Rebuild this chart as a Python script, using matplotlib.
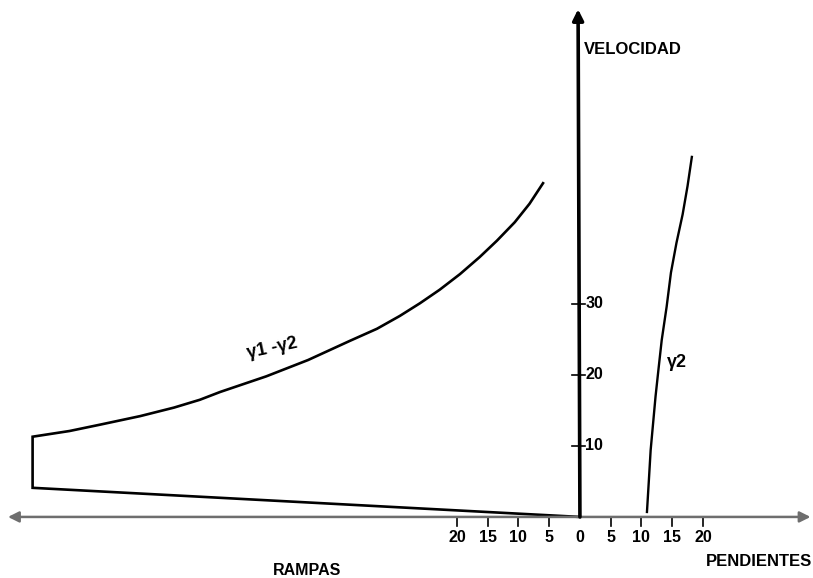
import matplotlib
matplotlib.use("Agg")
import matplotlib.pyplot as plt

plt.rcParams['font.family'] = ['Liberation Sans', 'DejaVu Sans']

# Upper boundary of the ramp envelope (gamma1 - gamma2), ramps are negative x
ramp_upper_x = [-89.0, -83.0, -78.0, -71.5, -66.0, -61.8, -58.5, -51.0, -44.2, -37.4,
                -33.0, -29.3, -26.0, -22.8, -19.5, -16.3, -13.5, -10.6, -8.2, -6.0]
ramp_upper_y = [11.3, 12.1, 13.0, 14.2, 15.4, 16.5, 17.6, 19.8, 22.1, 24.8,
                26.5, 28.3, 30.1, 32.0, 34.2, 36.6, 38.9, 41.5, 44.1, 47.0]
# Lower boundary of the ramp envelope
ramp_lower_x = [0.0, -89.0]
ramp_lower_y = [0.0, 4.1]
# Gamma2 curve on the downhill side
slope_x = [10.9, 11.2, 11.5, 11.9, 12.3, 12.8, 13.3, 14.1, 14.8, 15.7, 16.7, 17.5, 18.2]
slope_y = [0.7, 5.0, 9.4, 13.2, 17.0, 21.0, 24.9, 29.6, 34.4, 38.6, 42.6, 46.6, 50.7]

x_ticks_ramp = [5, 10, 15, 20]
x_ticks_slope = [5, 10, 15, 20]
y_ticks = [10, 20, 30]

fig = plt.figure(figsize=(8.13, 5.78), dpi=100)
ax = fig.add_axes([0, 0, 1, 1])
ax.set_xlim(-94.3, 37.9)
ax.set_ylim(-8.6, 72.8)
ax.axis('off')

# Horizontal axis, double headed
ax.annotate('', xy=(-93.0, 0), xytext=(37.5, 0),
            arrowprops=dict(arrowstyle='<|-|>', color='#6e6e6e', lw=1.8,
                            mutation_scale=16, shrinkA=0, shrinkB=0))
# Vertical axis
ax.annotate('', xy=(-0.3, 71.5), xytext=(0, 0),
            arrowprops=dict(arrowstyle='-|>', color='black', lw=2.6,
                            mutation_scale=16, shrinkA=0, shrinkB=0))

# Ticks on the horizontal axis
for v in x_ticks_ramp:
    ax.plot([-v, -v], [0, -1.3], color='black', lw=1.2)
    ax.text(-v, -2.9, str(v), ha='center', va='center', fontsize=11.5, fontweight='bold')
for v in x_ticks_slope:
    ax.plot([v, v], [0, -1.3], color='black', lw=1.2)
    ax.text(v, -2.9, str(v), ha='center', va='center', fontsize=11.5, fontweight='bold')
ax.text(0, -2.9, '0', ha='center', va='center', fontsize=11.5, fontweight='bold')

# Ticks on the vertical axis
for v in y_ticks:
    ax.plot([-1.3, 0.8], [v, v], color='black', lw=1.2)
    ax.text(0.9, v, str(v), ha='left', va='center', fontsize=11.5, fontweight='bold')

# Ramp envelope
env_x = ramp_lower_x + ramp_upper_x
env_y = ramp_lower_y + ramp_upper_y
ax.plot(env_x, env_y, color='black', lw=1.9, solid_joinstyle='miter')

# Gamma2 curve
ax.plot(slope_x, slope_y, color='black', lw=1.7)

# Labels
ax.text(-50.1, 23.8, 'γ1 -γ2', ha='center', va='center', fontsize=13,
        fontweight='bold', rotation=12)
ax.text(14.1, 21.8, 'γ2', ha='left', va='center', fontsize=13, fontweight='bold')
ax.text(0.6, 65.8, 'VELOCIDAD', ha='left', va='center', fontsize=12, fontweight='bold')
ax.text(20.5, -6.3, 'PENDIENTES', ha='left', va='center', fontsize=12, fontweight='bold')
ax.text(-44.4, -7.6, 'RAMPAS', ha='center', va='center', fontsize=11.5, fontweight='bold')

fig.savefig('out.png', dpi=100)
